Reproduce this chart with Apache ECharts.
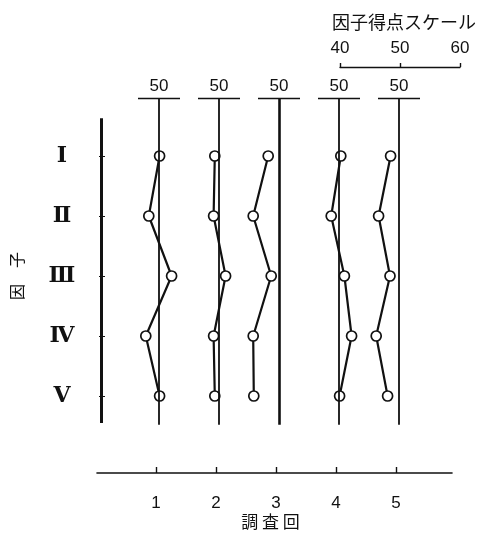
<!DOCTYPE html>
<html>
<head>
<meta charset="utf-8">
<script src="https://cdn.jsdelivr.net/npm/echarts@6/dist/echarts.min.js"></script>
<style>
  html, body { margin: 0; padding: 0; background: #fff; }
  #main { width: 488px; height: 540px; }
</style>
</head>
<body>
<div id="main"></div>
<script>
// 因子 I..V (rows), 調査回 1..5 (columns)
var factorLabels = ['Ⅰ', 'Ⅱ', 'Ⅲ', 'Ⅳ', 'Ⅴ'];
var surveyLabels = ['1', '2', '3', '4', '5'];
var scaleTicks = [40, 50, 60];
var baseScore = 50;

// 因子得点 per survey, factor I..V
var scores1 = [50.1, 48.3, 52.1, 47.8, 50.1];
var scores2 = [49.3, 49.1, 51.1, 49.1, 49.3];
var scores3 = [48.2, 45.7, 48.7, 45.7, 45.8];
var scores4 = [50.3, 48.7, 50.9, 52.1, 50.1];
var scores5 = [48.6, 46.6, 48.5, 46.2, 48.1];
var allScores = [scores1, scores2, scores3, scores4, scores5];

var ink = '#111';
var numFont = 'Liberation Sans';
var cjkFont = 'Noto Sans CJK JP';

// each survey column is 10 score units wide, its 50-line sits at 10*(k+1)
function colPos(k) { return 10 * (k + 1); }

var frameLines = [];
// left axis line
frameLines.push([{ coord: [0.3, 0.37], name: '', lineStyle: { width: 3 } }, { coord: [0.3, 5.45] }]);
allScores.forEach(function (s, k) {
    var p = colPos(k);
    frameLines.push([{ coord: [p, 0.033], name: '', lineStyle: { width: k === 2 ? 2.6 : 1.8 } }, { coord: [p, 5.48] }]);
    frameLines.push([{ coord: [p - 3.5, 0.033], name: String(baseScore), lineStyle: { width: 1.4 } }, { coord: [p + 3.5, 0.033] }]);
});

var series = [{
    type: 'line',
    data: [],
    z: 1,
    markLine: {
        silent: true,
        symbol: ['none', 'none'],
        lineStyle: { color: ink, type: 'solid' },
        label: {
            show: true,
            position: 'insideMiddleTop',
            formatter: '{b}',
            distance: 3,
            color: ink,
            fontFamily: numFont,
            fontSize: 17
        },
        data: frameLines
    }
}];

allScores.forEach(function (s, k) {
    series.push({
        type: 'line',
        name: surveyLabels[k],
        z: 3,
        symbol: 'circle',
        symbolSize: 10,
        itemStyle: { color: '#fff', borderColor: ink, borderWidth: 1.7 },
        lineStyle: { color: ink, width: 2.2 },
        data: s.map(function (v, i) { return [colPos(k) + v - baseScore, i + 1]; })
    });
});

var chart = echarts.init(document.getElementById('main'));
chart.setOption({
    backgroundColor: '#fff',
    animation: false,
    grid: [
        { left: 99, top: 96, width: 360, height: 360 },
        { left: 340, top: 67, width: 120, height: 10 },
        { left: 97, top: 463, width: 355, height: 10 }
    ],
    xAxis: [{
        gridIndex: 0, type: 'value', min: 0, max: 60, show: false
    }, {
        gridIndex: 1, type: 'value', position: 'top', min: 40, max: 60, interval: 10,
        axisLine: { show: true, onZero: false, lineStyle: { color: ink, width: 1.4 } },
        axisTick: { show: true, inside: false, length: 4, lineStyle: { color: ink, width: 1.4 } },
        axisLabel: {
            customValues: scaleTicks, margin: 10, color: ink, fontFamily: numFont, fontSize: 17
        },
        splitLine: { show: false },
        name: '因子得点スケール',
        nameLocation: 'middle',
        nameGap: 36,
        nameTextStyle: { color: ink, fontFamily: cjkFont, fontSize: 18, padding: [0, 0, 0, 8] }
    }, {
        gridIndex: 2, type: 'value', min: 0.17, max: 59.33,
        axisLine: { show: true, onZero: false, lineStyle: { color: ink, width: 1.6 } },
        axisTick: {
            show: true, inside: true, length: 6,
            customValues: [10, 20, 30, 40, 50],
            lineStyle: { color: ink, width: 1.4 }
        },
        axisLabel: {
            customValues: [10, 20, 30, 40, 50],
            formatter: function (v) { return surveyLabels[Math.round(v / 10) - 1]; },
            margin: 22, color: ink, fontFamily: numFont, fontSize: 17
        },
        splitLine: { show: false },
        name: '調 査 回',
        nameLocation: 'middle',
        nameGap: 40,
        nameTextStyle: { color: ink, fontFamily: cjkFont, fontSize: 17, padding: [0, 8, 0, 0] }
    }],
    yAxis: [{
        gridIndex: 0, type: 'value', inverse: true, min: 0, max: 6,
        axisLine: { show: false },
        splitLine: { show: false },
        axisTick: {
            show: true, inside: true, length: 6,
            customValues: [1, 2, 3, 4, 5],
            lineStyle: { color: ink, width: 1 }
        },
        axisLabel: {
            customValues: [1, 2, 3, 4, 5],
            formatter: function (v) { return factorLabels[v - 1]; },
            align: 'center',
            margin: 37,
            color: ink,
            fontFamily: "'DejaVu Serif', 'Liberation Serif', serif",
            fontWeight: 'bold',
            fontSize: 22
        },
        name: '因　子',
        nameLocation: 'middle',
        nameRotate: 90,
        nameGap: 74,
        nameTextStyle: { color: ink, fontFamily: cjkFont, fontSize: 16 }
    }, {
        gridIndex: 1, type: 'value', show: false
    }, {
        gridIndex: 2, type: 'value', show: false
    }],
    series: series
});
</script>
</body>
</html>
